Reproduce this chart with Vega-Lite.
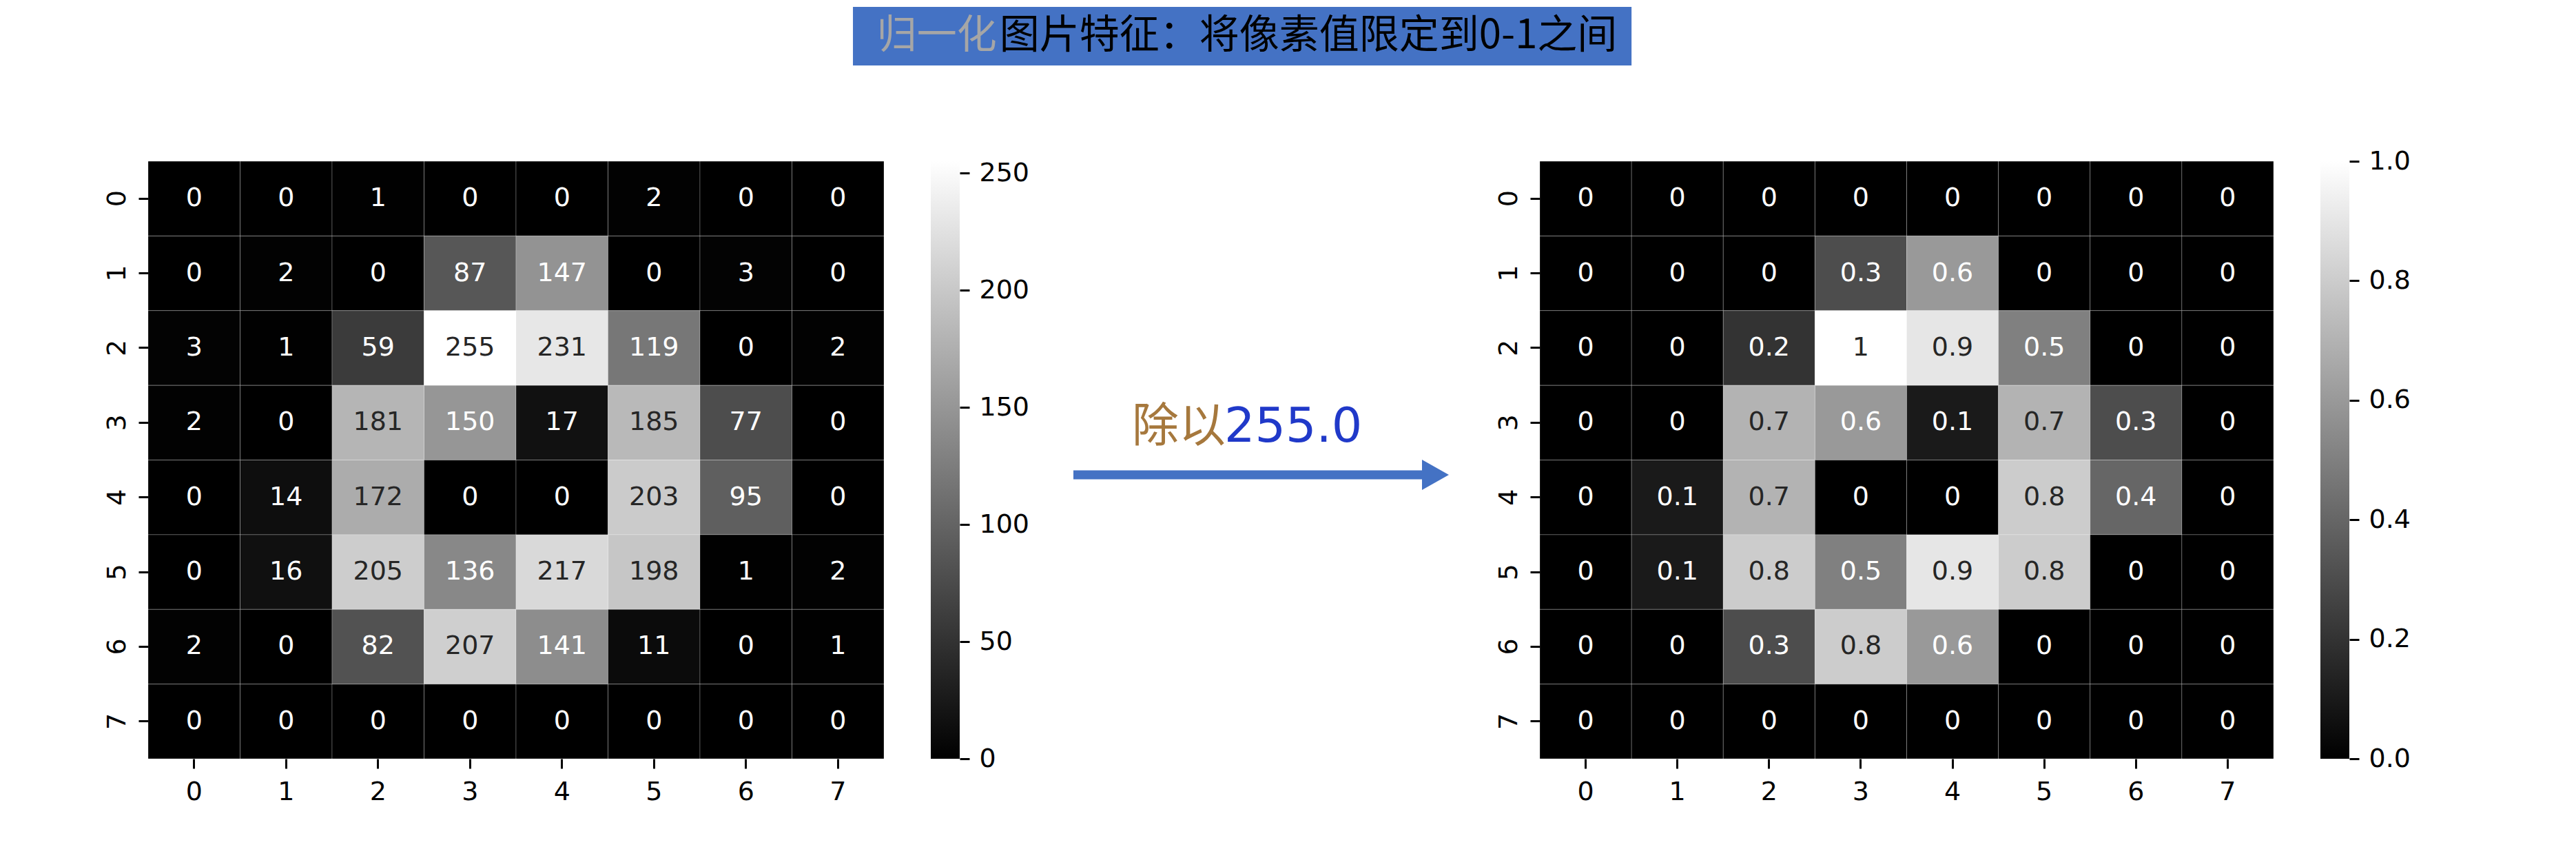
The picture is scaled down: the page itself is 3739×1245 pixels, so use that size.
{
  "$schema": "https://vega.github.io/schema/vega-lite/v6.json",
  "background": "white",
  "padding": {"left": 151, "top": 0, "right": 20, "bottom": 20},
  "config": {
    "view": {"stroke": null},
    "axis": {"domain": false, "grid": false, "tickColor": "#000000", "tickSize": 14, "tickWidth": 3, "labelFont": "DejaVu Sans", "labelFontSize": 38, "labelColor": "#000000", "title": null}
  },
  "datasets": {
    "left": [
      {"r":0,"c":0,"v":0},{"r":0,"c":1,"v":0},{"r":0,"c":2,"v":1},{"r":0,"c":3,"v":0},{"r":0,"c":4,"v":0},{"r":0,"c":5,"v":2},{"r":0,"c":6,"v":0},{"r":0,"c":7,"v":0},
      {"r":1,"c":0,"v":0},{"r":1,"c":1,"v":2},{"r":1,"c":2,"v":0},{"r":1,"c":3,"v":87},{"r":1,"c":4,"v":147},{"r":1,"c":5,"v":0},{"r":1,"c":6,"v":3},{"r":1,"c":7,"v":0},
      {"r":2,"c":0,"v":3},{"r":2,"c":1,"v":1},{"r":2,"c":2,"v":59},{"r":2,"c":3,"v":255},{"r":2,"c":4,"v":231},{"r":2,"c":5,"v":119},{"r":2,"c":6,"v":0},{"r":2,"c":7,"v":2},
      {"r":3,"c":0,"v":2},{"r":3,"c":1,"v":0},{"r":3,"c":2,"v":181},{"r":3,"c":3,"v":150},{"r":3,"c":4,"v":17},{"r":3,"c":5,"v":185},{"r":3,"c":6,"v":77},{"r":3,"c":7,"v":0},
      {"r":4,"c":0,"v":0},{"r":4,"c":1,"v":14},{"r":4,"c":2,"v":172},{"r":4,"c":3,"v":0},{"r":4,"c":4,"v":0},{"r":4,"c":5,"v":203},{"r":4,"c":6,"v":95},{"r":4,"c":7,"v":0},
      {"r":5,"c":0,"v":0},{"r":5,"c":1,"v":16},{"r":5,"c":2,"v":205},{"r":5,"c":3,"v":136},{"r":5,"c":4,"v":217},{"r":5,"c":5,"v":198},{"r":5,"c":6,"v":1},{"r":5,"c":7,"v":2},
      {"r":6,"c":0,"v":2},{"r":6,"c":1,"v":0},{"r":6,"c":2,"v":82},{"r":6,"c":3,"v":207},{"r":6,"c":4,"v":141},{"r":6,"c":5,"v":11},{"r":6,"c":6,"v":0},{"r":6,"c":7,"v":1},
      {"r":7,"c":0,"v":0},{"r":7,"c":1,"v":0},{"r":7,"c":2,"v":0},{"r":7,"c":3,"v":0},{"r":7,"c":4,"v":0},{"r":7,"c":5,"v":0},{"r":7,"c":6,"v":0},{"r":7,"c":7,"v":0}
    ],
    "right": [
      {"r":0,"c":0,"v":0},{"r":0,"c":1,"v":0},{"r":0,"c":2,"v":0},{"r":0,"c":3,"v":0},{"r":0,"c":4,"v":0},{"r":0,"c":5,"v":0},{"r":0,"c":6,"v":0},{"r":0,"c":7,"v":0},
      {"r":1,"c":0,"v":0},{"r":1,"c":1,"v":0},{"r":1,"c":2,"v":0},{"r":1,"c":3,"v":0.3},{"r":1,"c":4,"v":0.6},{"r":1,"c":5,"v":0},{"r":1,"c":6,"v":0},{"r":1,"c":7,"v":0},
      {"r":2,"c":0,"v":0},{"r":2,"c":1,"v":0},{"r":2,"c":2,"v":0.2},{"r":2,"c":3,"v":1},{"r":2,"c":4,"v":0.9},{"r":2,"c":5,"v":0.5},{"r":2,"c":6,"v":0},{"r":2,"c":7,"v":0},
      {"r":3,"c":0,"v":0},{"r":3,"c":1,"v":0},{"r":3,"c":2,"v":0.7},{"r":3,"c":3,"v":0.6},{"r":3,"c":4,"v":0.1},{"r":3,"c":5,"v":0.7},{"r":3,"c":6,"v":0.3},{"r":3,"c":7,"v":0},
      {"r":4,"c":0,"v":0},{"r":4,"c":1,"v":0.1},{"r":4,"c":2,"v":0.7},{"r":4,"c":3,"v":0},{"r":4,"c":4,"v":0},{"r":4,"c":5,"v":0.8},{"r":4,"c":6,"v":0.4},{"r":4,"c":7,"v":0},
      {"r":5,"c":0,"v":0},{"r":5,"c":1,"v":0.1},{"r":5,"c":2,"v":0.8},{"r":5,"c":3,"v":0.5},{"r":5,"c":4,"v":0.9},{"r":5,"c":5,"v":0.8},{"r":5,"c":6,"v":0},{"r":5,"c":7,"v":0},
      {"r":6,"c":0,"v":0},{"r":6,"c":1,"v":0},{"r":6,"c":2,"v":0.3},{"r":6,"c":3,"v":0.8},{"r":6,"c":4,"v":0.6},{"r":6,"c":5,"v":0},{"r":6,"c":6,"v":0},{"r":6,"c":7,"v":0},
      {"r":7,"c":0,"v":0},{"r":7,"c":1,"v":0},{"r":7,"c":2,"v":0},{"r":7,"c":3,"v":0},{"r":7,"c":4,"v":0},{"r":7,"c":5,"v":0},{"r":7,"c":6,"v":0},{"r":7,"c":7,"v":0}
    ]
  },
  "bounds": "flush",
  "spacing": 114,
  "vconcat": [
    {
      "width": 3195,
      "height": 120,
      "layer": [
        {
          "data": {"values": [{"k": "box"}]},
          "mark": {"type": "rect", "color": "#4472C4"},
          "encoding": {
            "x": {"datum": 0.3202, "type": "quantitative", "scale": {"domain": [0, 1]}, "axis": null},
            "x2": {"datum": 0.6739},
            "y": {"datum": 0.2083, "type": "quantitative", "scale": {"domain": [0, 1]}, "axis": null},
            "y2": {"datum": 0.9167}
          }
        },
        {
          "data": {"values": [{"t": "归一化"}]},
          "mark": {"type": "text", "font": "Noto Sans CJK SC", "fontSize": 58, "align": "left", "baseline": "middle", "color": "#a6a6a6"},
          "encoding": {
            "x": {"datum": 0.3311, "type": "quantitative", "scale": {"domain": [0, 1]}, "axis": null},
            "y": {"datum": 0.5625, "type": "quantitative", "scale": {"domain": [0, 1]}, "axis": null},
            "text": {"field": "t", "type": "nominal"}
          }
        },
        {
          "data": {"values": [{"t": "图片特征：将像素值限定到0-1之间"}]},
          "mark": {"type": "text", "font": "Noto Sans CJK SC", "fontSize": 58, "align": "left", "baseline": "middle", "color": "#000000"},
          "encoding": {
            "x": {"datum": 0.3868, "type": "quantitative", "scale": {"domain": [0, 1]}, "axis": null},
            "y": {"datum": 0.5625, "type": "quantitative", "scale": {"domain": [0, 1]}, "axis": null},
            "text": {"field": "t", "type": "nominal"}
          }
        }
      ]
    },
    {
      "bounds": "flush",
      "spacing": 68,
      "resolve": {"scale": {"color": "independent", "x": "independent", "y": "independent"}},
      "hconcat": [
        {
          "width": 1068,
          "height": 867,
          "data": {"name": "left"},
          "encoding": {
            "x": {"field": "c", "type": "ordinal", "title": null, "axis": {"labelAngle": 0, "labelPadding": 15}},
            "y": {"field": "r", "type": "ordinal", "title": null, "axis": {"labelAngle": 270, "labelPadding": 12}}
          },
          "layer": [
            {
              "mark": {"type": "rect", "stroke": "#ffffff", "strokeWidth": 1, "strokeOpacity": 0.25},
              "encoding": {"color": {"field": "v", "type": "quantitative", "scale": {"domain": [0, 255], "range": ["#000000", "#ffffff"], "interpolate": "rgb"}, "legend": null}}
            },
            {
              "mark": {"type": "text", "font": "DejaVu Sans", "fontSize": 38, "baseline": "middle"},
              "encoding": {
                "text": {"field": "v", "type": "nominal"},
                "color": {"condition": {"test": "datum.v > 171", "value": "#262626"}, "value": "#ffffff"}
              }
            }
          ]
        },
        {
          "width": 42,
          "height": 867,
          "data": {"values": [{"vmin": 0, "vmax": 255}]},
          "mark": {"type": "rect", "color": {"gradient": "linear", "x1": 0, "y1": 1, "x2": 0, "y2": 0, "stops": [{"offset": 0, "color": "#000000"}, {"offset": 1, "color": "#ffffff"}]}},
          "encoding": {
            "x": {"datum": 0, "type": "quantitative", "scale": {"domain": [0, 1]}, "axis": null},
            "x2": {"datum": 1},
            "y": {"field": "vmin", "type": "quantitative", "scale": {"domain": [0, 255], "nice": false, "zero": false}, "axis": {"orient": "right", "values": [0, 50, 100, 150, 200, 250], "labelPadding": 14}},
            "y2": {"field": "vmax"}
          }
        },
        {
          "width": 706,
          "height": 867,
          "layer": [
            {
              "data": {"values": [{"k": "shaft"}]},
              "mark": {"type": "rule", "color": "#4472C4", "strokeWidth": 13, "strokeCap": "butt"},
              "encoding": {
                "x": {"datum": 0.1374, "type": "quantitative", "scale": {"domain": [0, 1]}, "axis": null},
                "x2": {"datum": 0.875},
                "y": {"datum": 0.4752, "type": "quantitative", "scale": {"domain": [0, 1]}, "axis": null}
              }
            },
            {
              "data": {"values": [{"k": "head"}]},
              "mark": {"type": "point", "shape": "M -0.886 -1 L 0.886 0 L -0.886 1 Z", "filled": true, "color": "#4472C4", "opacity": 1, "size": 1936, "strokeWidth": 0},
              "encoding": {
                "x": {"datum": 0.8817, "type": "quantitative", "scale": {"domain": [0, 1]}, "axis": null},
                "y": {"datum": 0.4752, "type": "quantitative", "scale": {"domain": [0, 1]}, "axis": null}
              }
            },
            {
              "data": {"values": [{"t": "除以"}]},
              "mark": {"type": "text", "font": "Noto Sans CJK SC", "fontSize": 68, "align": "left", "baseline": "alphabetic", "color": "#a6783d"},
              "encoding": {
                "x": {"datum": 0.2578, "type": "quantitative", "scale": {"domain": [0, 1]}, "axis": null},
                "y": {"datum": 0.53, "type": "quantitative", "scale": {"domain": [0, 1]}, "axis": null},
                "text": {"field": "t", "type": "nominal"}
              }
            },
            {
              "data": {"values": [{"t": "255.0"}]},
              "mark": {"type": "text", "font": "DejaVu Sans", "fontSize": 70, "align": "left", "baseline": "alphabetic", "color": "#2039c9"},
              "encoding": {
                "x": {"datum": 0.4476, "type": "quantitative", "scale": {"domain": [0, 1]}, "axis": null},
                "y": {"datum": 0.53, "type": "quantitative", "scale": {"domain": [0, 1]}, "axis": null},
                "text": {"field": "t", "type": "nominal"}
              }
            }
          ]
        },
        {
          "width": 1065,
          "height": 867,
          "data": {"name": "right"},
          "encoding": {
            "x": {"field": "c", "type": "ordinal", "title": null, "axis": {"labelAngle": 0, "labelPadding": 15}},
            "y": {"field": "r", "type": "ordinal", "title": null, "axis": {"labelAngle": 270, "labelPadding": 12}}
          },
          "layer": [
            {
              "mark": {"type": "rect", "stroke": "#ffffff", "strokeWidth": 1, "strokeOpacity": 0.25},
              "encoding": {"color": {"field": "v", "type": "quantitative", "scale": {"domain": [0, 1], "range": ["#000000", "#ffffff"], "interpolate": "rgb"}, "legend": null}}
            },
            {
              "mark": {"type": "text", "font": "DejaVu Sans", "fontSize": 38, "baseline": "middle"},
              "encoding": {
                "text": {"field": "v", "type": "nominal"},
                "color": {"condition": {"test": "datum.v > 0.671", "value": "#262626"}, "value": "#ffffff"}
              }
            }
          ]
        },
        {
          "width": 42,
          "height": 867,
          "data": {"values": [{"vmin": 0, "vmax": 1}]},
          "mark": {"type": "rect", "color": {"gradient": "linear", "x1": 0, "y1": 1, "x2": 0, "y2": 0, "stops": [{"offset": 0, "color": "#000000"}, {"offset": 1, "color": "#ffffff"}]}},
          "encoding": {
            "x": {"datum": 0, "type": "quantitative", "scale": {"domain": [0, 1]}, "axis": null},
            "x2": {"datum": 1},
            "y": {"field": "vmin", "type": "quantitative", "scale": {"domain": [0, 1], "nice": false, "zero": false}, "axis": {"orient": "right", "values": [0, 0.2, 0.4, 0.6, 0.8, 1], "format": ".1f", "labelPadding": 14}},
            "y2": {"field": "vmax"}
          }
        }
      ]
    }
  ]
}
